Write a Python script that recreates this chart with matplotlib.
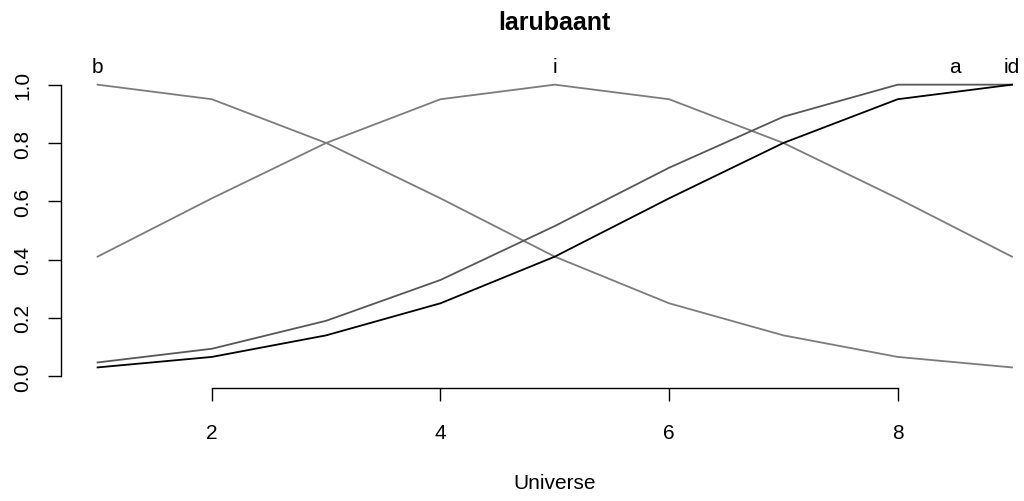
import numpy as np
import matplotlib
matplotlib.use("Agg")
import matplotlib.pyplot as plt

plt.rcParams['font.family'] = ['Liberation Sans', 'DejaVu Sans']
plt.rcParams['font.size'] = 15

## universe and membership grades of the four fuzzy sets
universe = np.arange(1, 10)
set_names = ["b", "i", "a", "id"]
grade_b = [1.0, 0.95, 0.80, 0.61, 0.41, 0.25, 0.14, 0.066, 0.03]
grade_i = [0.41, 0.61, 0.80, 0.95, 1.0, 0.95, 0.80, 0.61, 0.41]
grade_a = [0.047, 0.094, 0.19, 0.33, 0.515, 0.715, 0.89, 1.0, 1.0]
grade_id = [0.03, 0.066, 0.14, 0.25, 0.41, 0.61, 0.80, 0.95, 1.0]
line_colors = ["#7c7c7c", "#7c7c7c", "#575757", "black"]

xticks = [2, 4, 6, 8]
yticks = [0.0, 0.2, 0.4, 0.6, 0.8, 1.0]

W, H = 1024, 502
fig = plt.figure(figsize=(W / 100, H / 100), dpi=100)
## plot region in pixels (R style, 4% padding on both scales)
left, top, px_x, px_y = 61, 74, 114.3, 291.5
xlim = (0.68, 9.32)
ylim = (-0.04, 1.04)
w = (xlim[1] - xlim[0]) * px_x
h = (ylim[1] - ylim[0]) * px_y
ax = fig.add_axes([left / W, 1 - (top + h) / H, w / W, h / H])
ax.set_xlim(*xlim)
ax.set_ylim(*ylim)

grades = [grade_b, grade_i, grade_a, grade_id]
for name, g, col in zip(set_names, grades, line_colors):
    g = np.array(g)
    ax.plot(universe, g, color=col, lw=1.3, solid_joinstyle='miter')
    ## label over the centre of the core
    xc = universe[g == g.max()].mean()
    ax.annotate(name, (xc, g.max()), xytext=(0, 13), textcoords='offset points',
                ha='center', va='center', fontsize=15)

for s in ['top', 'right']:
    ax.spines[s].set_visible(False)
ax.spines['bottom'].set_bounds(xticks[0], xticks[-1])
ax.spines['left'].set_bounds(yticks[0], yticks[-1])
for s in ['bottom', 'left']:
    ax.spines[s].set_linewidth(1.0)
ax.set_xticks(xticks)
ax.set_xticklabels([str(t) for t in xticks])
ax.set_yticks(yticks)
ax.set_yticklabels(["%.1f" % t for t in yticks], rotation=90, va='center')
ax.tick_params(axis='both', length=9.5, width=1.0, labelsize=15)
ax.tick_params(axis='x', pad=16)
ax.tick_params(axis='y', pad=11)

fig.text(ax.get_position().x0 + ax.get_position().width / 2, 1 - 23 / H, "larubaant",
         ha='center', va='center', fontsize=18, fontweight='bold')
fig.text(ax.get_position().x0 + ax.get_position().width / 2, 1 - 484 / H, "Universe",
         ha='center', va='center', fontsize=15)

fig.savefig("out.png", dpi=100)
